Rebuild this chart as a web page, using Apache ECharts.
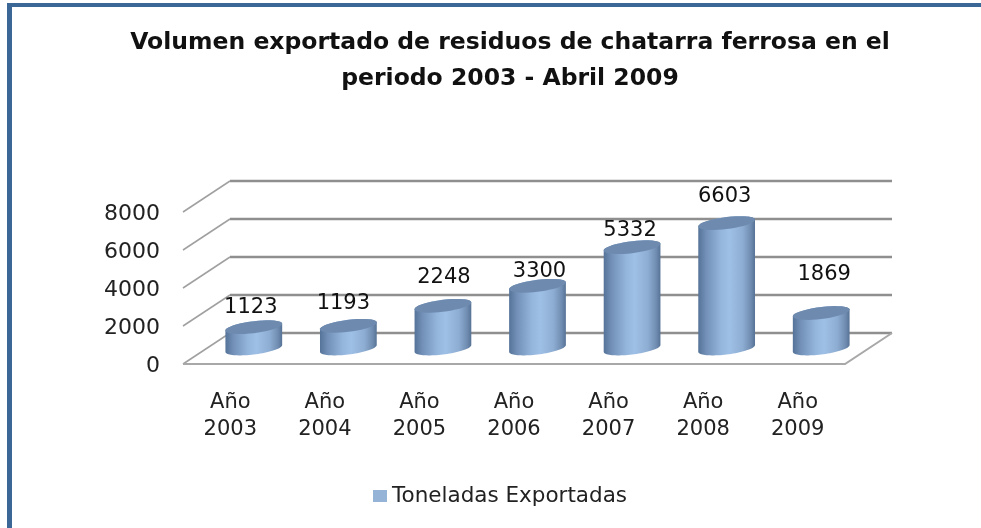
<!DOCTYPE html>
<html>
<head>
<meta charset="utf-8">
<style>html,body{margin:0;padding:0;background:#fff}#c{width:981px;height:528px}</style>
<script src="https://cdn.jsdelivr.net/npm/echarts@6/dist/echarts.min.js"></script>
</head>
<body>
<div id="c"></div>
<script>
const titleText = 'Volumen exportado de residuos de chatarra ferrosa en el\nperiodo 2003 - Abril 2009';
const seriesName = 'Toneladas Exportadas';
const categories = ['Año\n2003','Año\n2004','Año\n2005','Año\n2006','Año\n2007','Año\n2008','Año\n2009'];
const tonnes = [1123,1193,2248,3300,5332,6603,1869];
const yTicks = [0,2000,4000,6000,8000];
// hand-placed data-label nudges seen in the picture (px from the cylinder centre top)
const labelNudgeX = [-3,-5,1,2,-2,-2,3];
const labelNudgeY = [-20,-22,-28,-14,-17,-26,-38];

const FONT = '"DejaVu Sans"';
const DEPTH_X = 47, DEPTH_Y = 31, SKEW = 0.12, RY = 6;

function ringPoint(cx, cy, rx, t) {
  const dx = rx * Math.cos(t);
  return [cx + dx, cy + RY * Math.sin(t) - SKEW * dx];
}
function arc(cx, cy, rx, from, to) {
  const pts = [];
  for (let i = 0; i <= 40; i++) pts.push(ringPoint(cx, cy, rx, from + (to - from) * i / 40));
  return pts;
}

const chart = echarts.init(document.getElementById('c'), null, {renderer: 'canvas'});
chart.setOption({
  animation: false,
  backgroundColor: '#fff',
  title: {
    text: titleText, left: 505, top: 20, textAlign: 'center',
    textStyle: {fontFamily: FONT, fontSize: 23.5, fontWeight: 'bold', color: '#111', lineHeight: 36}
  },
  graphic: [
    {type: 'rect', shape: {x: 7, y: 3, width: 974, height: 4}, style: {fill: '#3b6797'}},
    {type: 'rect', shape: {x: 7, y: 3, width: 5, height: 525}, style: {fill: '#3b6797'}}
  ],
  legend: {
    data: [seriesName], left: 368, top: 480, icon: 'rect', itemWidth: 14, itemHeight: 12, itemGap: 7,
    textStyle: {fontFamily: FONT, fontSize: 21.5, color: '#222'}
  },
  grid: {left: 183, width: 662, top: 212, height: 152},
  xAxis: {
    type: 'category', data: categories,
    axisLine: {show: false}, axisTick: {show: false}, splitLine: {show: false},
    axisLabel: {fontFamily: FONT, fontSize: 21, color: '#222', lineHeight: 27, margin: 25, interval: 0}
  },
  yAxis: {
    type: 'value', min: 0, max: 8000, interval: 2000,
    axisLine: {show: false}, axisTick: {show: false}, splitLine: {show: false},
    axisLabel: {
      margin: 23, formatter: v => '{t|' + v + '}',
      rich: {t: {fontFamily: FONT, fontSize: 22, color: '#222', padding: [4, 0, 0, 0]}}
    }
  },
  series: [
    {
      name: 'wall', type: 'custom', silent: true, z: 1, clip: false,
      data: yTicks.map(v => [0, v]), encode: {x: 0, y: 1},
      renderItem(params, api) {
        const cs = params.coordSys;
        const y = api.coord([0, api.value(1)])[1];
        const L = cs.x, R = cs.x + cs.width;
        const children = [
          {type: 'line', shape: {x1: L, y1: y, x2: L + DEPTH_X, y2: y - DEPTH_Y},
           style: {stroke: '#a0a0a0', lineWidth: 1.5}},
          {type: 'line', shape: {x1: L + DEPTH_X, y1: y - DEPTH_Y, x2: R + DEPTH_X, y2: y - DEPTH_Y},
           style: {stroke: '#8f8f8f', lineWidth: 2.4}}
        ];
        if (api.value(1) === 0) {
          children.push({type: 'polyline', shape: {points: [[L, y], [R, y], [R + DEPTH_X, y - DEPTH_Y]]},
            style: {stroke: '#a8a8a8', lineWidth: 2, fill: null}});
        }
        return {type: 'group', children};
      }
    },
    {
      name: seriesName, type: 'custom', z: 2, clip: false,
      itemStyle: {color: '#95b3d7'},
      data: tonnes.map((v, i) => [i, v]), encode: {x: 0, y: 1},
      renderItem(params, api) {
        const i = params.dataIndex;
        const base = api.coord([api.value(0), 0]);
        const top = api.coord([api.value(0), api.value(1)]);
        const rx = api.size([1, 0])[0] * 0.3;
        const cx = base[0] + DEPTH_X / 2;
        const by = base[1] - DEPTH_Y / 2;
        const ty = top[1] - DEPTH_Y / 2;
        const bodyPts = arc(cx, by, rx, 0, Math.PI).concat(arc(cx, ty, rx, Math.PI, 2 * Math.PI));
        return {type: 'group', children: [
          {type: 'polygon', shape: {points: bodyPts}, style: {fill: {
            type: 'linear', x: 0, y: 0, x2: 1, y2: 0,
            colorStops: [
              {offset: 0, color: '#557398'}, {offset: 0.14, color: '#7391b8'},
              {offset: 0.4, color: '#94b5dc'}, {offset: 0.55, color: '#9fc0e6'},
              {offset: 0.78, color: '#8eadd2'}, {offset: 0.93, color: '#6f8cb0'},
              {offset: 1, color: '#567396'}
            ]}}},
          {type: 'polygon', shape: {points: arc(cx, ty, rx, 0, 2 * Math.PI)}, style: {fill: '#6e8aaf'}},
          {type: 'text', style: {
            x: cx + labelNudgeX[i], y: ty + labelNudgeY[i], text: String(api.value(1)),
            textAlign: 'center', textVerticalAlign: 'middle',
            font: '21px ' + FONT, fill: '#111'}}
        ]};
      }
    }
  ]
});
</script>
</body>
</html>
